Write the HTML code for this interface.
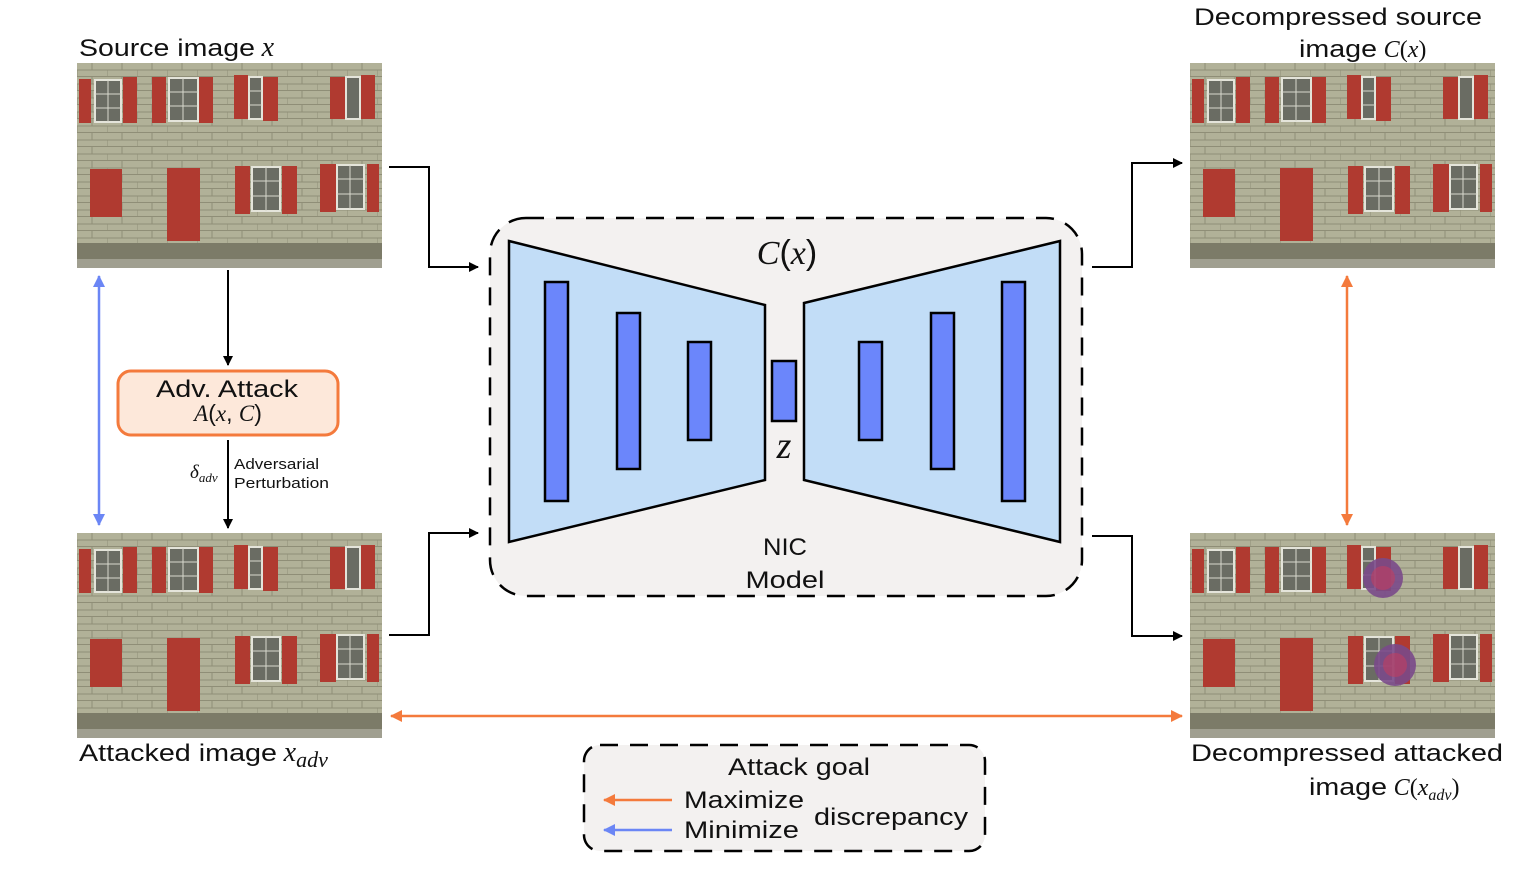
<!DOCTYPE html>
<html><head><meta charset="utf-8"><style>
html,body{margin:0;padding:0;background:#fff}
svg{display:block}
text{font-family:"Liberation Sans",sans-serif;fill:#111}
.m{font-family:"Liberation Serif",serif;font-style:italic}
</style></head><body>
<svg width="1518" height="870" viewBox="0 0 1518 870" xmlns="http://www.w3.org/2000/svg">
<defs>
<marker id="ab" markerWidth="10" markerHeight="10" refX="9" refY="5" orient="auto" markerUnits="userSpaceOnUse"><path d="M0,0 L10,5 L0,10 Z" fill="#000"/></marker>
<marker id="ao" markerWidth="12" markerHeight="12" refX="11" refY="6" orient="auto-start-reverse" markerUnits="userSpaceOnUse"><path d="M0,0 L12,6 L0,12 Z" fill="#f47a3c"/></marker>
<marker id="abl" markerWidth="12" markerHeight="12" refX="11" refY="6" orient="auto-start-reverse" markerUnits="userSpaceOnUse"><path d="M0,0 L12,6 L0,12 Z" fill="#6b86f5"/></marker>
<pattern id="brick" width="30" height="14" patternUnits="userSpaceOnUse">
<rect width="30" height="14" fill="#bdbca6"/>
<path d="M0,13.5 H30 M15,0 V7 M0,7 H30 M0,7 V14" stroke="#8f8e7a" stroke-width="1" fill="none"/>
</pattern>
<g id="house">
<rect width="305" height="205" fill="url(#brick)"/>
<rect width="305" height="205" fill="#8e8f70" opacity="0.25"/>
<rect x="0" y="180" width="305" height="16" fill="#7c7b68"/>
<rect x="0" y="196" width="305" height="9" fill="#a09f90"/>
<g fill="#b03a30">
<rect x="2" y="16" width="12" height="44"/><rect x="46" y="14" width="14" height="46"/>
<rect x="75" y="14" width="14" height="46"/><rect x="122" y="14" width="14" height="46"/>
<rect x="157" y="12" width="14" height="44"/><rect x="186" y="14" width="15" height="44"/>
<rect x="253" y="14" width="15" height="42"/><rect x="284" y="12" width="14" height="44"/>
<rect x="13" y="106" width="32" height="48"/><rect x="90" y="105" width="33" height="73"/>
<rect x="158" y="103" width="15" height="48"/><rect x="205" y="103" width="15" height="48"/>
<rect x="243" y="101" width="16" height="48"/><rect x="290" y="101" width="12" height="48"/>
</g>
<g fill="#6a6c63" stroke="#e4e4da" stroke-width="2">
<rect x="18" y="17" width="26" height="42"/><rect x="92" y="15" width="29" height="43"/>
<rect x="172" y="14" width="13" height="42"/><rect x="269" y="14" width="14" height="42"/>
<rect x="175" y="104" width="28" height="44"/><rect x="260" y="102" width="27" height="44"/>
</g>
<g stroke="#d8d8cc" stroke-width="1">
<path d="M18,31H44M18,45H44M31,17V59M92,29H121M92,43H121M106,15V58M172,28H185M172,42H185M175,118H203M175,133H203M189,104V148M260,116H287M260,131H287M273,102V146"/>
</g>
</g>
</defs>

<use href="#house" x="77" y="63"/>
<use href="#house" x="77" y="533"/>
<use href="#house" x="1190" y="63"/>
<use href="#house" x="1190" y="533"/>
<circle cx="1383" cy="578" r="20" fill="#7a4a8a" opacity="0.9"/>
<circle cx="1383" cy="578" r="12" fill="#c04060" opacity="0.6"/>
<circle cx="1395" cy="665" r="21" fill="#7a4a8a" opacity="0.9"/>
<circle cx="1395" cy="665" r="12" fill="#c04060" opacity="0.6"/>

<text x="79" y="56" font-size="24"><tspan textLength="176" lengthAdjust="spacingAndGlyphs">Source image</tspan> <tspan class="m" font-size="28">x</tspan></text>
<text x="79" y="761" font-size="24"><tspan textLength="198" lengthAdjust="spacingAndGlyphs">Attacked image</tspan> <tspan class="m" font-size="28">x</tspan><tspan class="m" font-size="22" dy="6">adv</tspan></text>
<text x="1194" y="25" font-size="24" textLength="288" lengthAdjust="spacingAndGlyphs">Decompressed source</text>
<text x="1299" y="57" font-size="24"><tspan textLength="78" lengthAdjust="spacingAndGlyphs">image</tspan> <tspan class="m">C</tspan><tspan font-family="Liberation Serif">(</tspan><tspan class="m">x</tspan><tspan font-family="Liberation Serif">)</tspan></text>
<text x="1191" y="761" font-size="24" textLength="312" lengthAdjust="spacingAndGlyphs">Decompressed attacked</text>
<text x="1309" y="795" font-size="24"><tspan textLength="78" lengthAdjust="spacingAndGlyphs">image</tspan> <tspan class="m">C</tspan><tspan font-family="Liberation Serif">(</tspan><tspan class="m">x</tspan><tspan class="m" font-size="16" dy="5">adv</tspan><tspan font-family="Liberation Serif" dy="-5">)</tspan></text>

<rect x="490" y="218" width="592" height="378" rx="36" fill="#f3f1f0" stroke="#000" stroke-width="2.5" stroke-dasharray="18,12"/>
<polygon points="509,241 765,305 765,480 509,542" fill="#c2ddf7" stroke="#000" stroke-width="2.5"/>
<polygon points="804,303 1060,241 1060,542 804,480" fill="#c2ddf7" stroke="#000" stroke-width="2.5"/>
<g fill="#6b86fb" stroke="#000" stroke-width="2.5">
<rect x="545" y="282" width="23" height="219"/>
<rect x="617" y="313" width="23" height="156"/>
<rect x="688" y="342" width="23" height="98"/>
<rect x="772" y="361" width="24" height="60"/>
<rect x="859" y="342" width="23" height="98"/>
<rect x="931" y="313" width="23" height="156"/>
<rect x="1002" y="282" width="23" height="219"/>
</g>
<text x="787" y="264" font-size="34" text-anchor="middle" font-family="Liberation Serif"><tspan class="m">C</tspan>(<tspan class="m">x</tspan>)</text>
<text x="784" y="458" font-size="38" text-anchor="middle" class="m">z</text>
<text x="785" y="555" font-size="24" text-anchor="middle" textLength="44" lengthAdjust="spacingAndGlyphs">NIC</text>
<text x="785" y="588" font-size="24" text-anchor="middle" textLength="79" lengthAdjust="spacingAndGlyphs">Model</text>

<g stroke="#000" stroke-width="2" fill="none">
<polyline points="389,167 429,167 429,267 478,267" marker-end="url(#ab)"/>
<polyline points="389,635 429,635 429,533 478,533" marker-end="url(#ab)"/>
<polyline points="1092,267 1132,267 1132,163 1182,163" marker-end="url(#ab)"/>
<polyline points="1092,536 1132,536 1132,636 1182,636" marker-end="url(#ab)"/>
<line x1="228" y1="270" x2="228" y2="365" marker-end="url(#ab)"/>
<line x1="228" y1="440" x2="228" y2="528" marker-end="url(#ab)"/>
</g>
<line x1="99" y1="276" x2="99" y2="525" stroke="#6b86f5" stroke-width="2.5" marker-start="url(#abl)" marker-end="url(#abl)"/>
<line x1="1347" y1="276" x2="1347" y2="525" stroke="#f47a3c" stroke-width="2.5" marker-start="url(#ao)" marker-end="url(#ao)"/>
<line x1="391" y1="716" x2="1182" y2="716" stroke="#f47a3c" stroke-width="2.5" marker-start="url(#ao)" marker-end="url(#ao)"/>

<rect x="118" y="371" width="220" height="64" rx="13" fill="#fde8da" stroke="#f47a3c" stroke-width="3"/>
<text x="227" y="397" font-size="24" text-anchor="middle" textLength="142" lengthAdjust="spacingAndGlyphs">Adv. Attack</text>
<text x="228" y="421" font-size="23" text-anchor="middle" font-family="Liberation Serif"><tspan class="m">A</tspan>(<tspan class="m">x</tspan>, <tspan class="m">C</tspan>)</text>
<text x="190" y="478" font-size="19" class="m">δ<tspan font-size="13" dy="4">adv</tspan></text>
<text x="234" y="469" font-size="15" textLength="85" lengthAdjust="spacingAndGlyphs">Adversarial</text>
<text x="234" y="488" font-size="15" textLength="95" lengthAdjust="spacingAndGlyphs">Perturbation</text>

<rect x="584" y="745" width="401" height="106" rx="16" fill="#f3f1f0" stroke="#000" stroke-width="2.5" stroke-dasharray="18,12"/>
<text x="728" y="775" font-size="24" textLength="142" lengthAdjust="spacingAndGlyphs">Attack goal</text>
<line x1="672" y1="800" x2="604" y2="800" stroke="#f47a3c" stroke-width="2.5" marker-end="url(#ao)"/>
<line x1="672" y1="830" x2="604" y2="830" stroke="#6b86f5" stroke-width="2.5" marker-end="url(#abl)"/>
<text x="684" y="808" font-size="24" textLength="120" lengthAdjust="spacingAndGlyphs">Maximize</text>
<text x="684" y="838" font-size="24" textLength="115" lengthAdjust="spacingAndGlyphs">Minimize</text>
<text x="814" y="825" font-size="24" textLength="154" lengthAdjust="spacingAndGlyphs">discrepancy</text>
</svg>
</body></html>
